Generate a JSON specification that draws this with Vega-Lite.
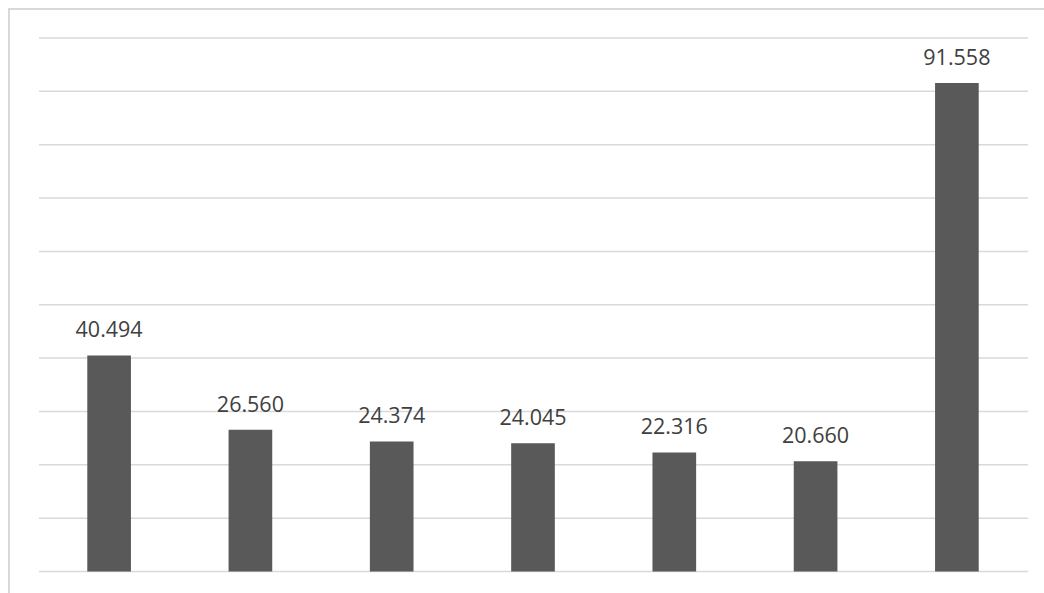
{
  "$schema": "https://vega.github.io/schema/vega-lite/v6.json",
  "width": 1048,
  "height": 600,
  "autosize": {"type": "none"},
  "padding": {"left": 9, "top": 9, "right": 0, "bottom": 0},
  "background": "white",
  "config": {"view": {"stroke": "#d9d9d9", "strokeWidth": 2}},
  "layer": [
    {
      "data": {"values": [{"v": 0}, {"v": 10}, {"v": 20}, {"v": 30}, {"v": 40}, {"v": 50}, {"v": 60}, {"v": 70}, {"v": 80}, {"v": 90}, {"v": 100}]},
      "mark": {"type": "rule", "color": "#d9d9d9", "strokeWidth": 1.5},
      "encoding": {
        "y": {"field": "v", "type": "quantitative", "scale": {"domain": [-7.029, 105.436], "nice": false, "zero": false}, "axis": null},
        "x": {"datum": 0, "type": "quantitative", "scale": {"domain": [-0.0303, 1.0293], "nice": false, "zero": false}, "axis": null},
        "x2": {"datum": 1}
      }
    },
    {
      "data": {"values": [
        {"c": "1", "v": 40.494},
        {"c": "2", "v": 26.560},
        {"c": "3", "v": 24.374},
        {"c": "4", "v": 24.045},
        {"c": "5", "v": 22.316},
        {"c": "6", "v": 20.660},
        {"c": "7", "v": 91.558}
      ]},
      "encoding": {
        "x": {"field": "c", "type": "nominal", "sort": null, "scale": {"paddingInner": 0.691, "paddingOuter": 0.554}, "axis": null},
        "y": {"field": "v", "type": "quantitative", "axis": null}
      },
      "layer": [
        {"mark": {"type": "bar", "color": "#595959"}},
        {"mark": {"type": "text", "font": "Open Sans", "fontSize": 21.5, "color": "#404040", "baseline": "alphabetic", "dy": -18},
         "encoding": {"text": {"field": "v", "type": "quantitative", "format": ".3f"}}}
      ]
    }
  ],
  "resolve": {"scale": {"x": "independent"}}
}
